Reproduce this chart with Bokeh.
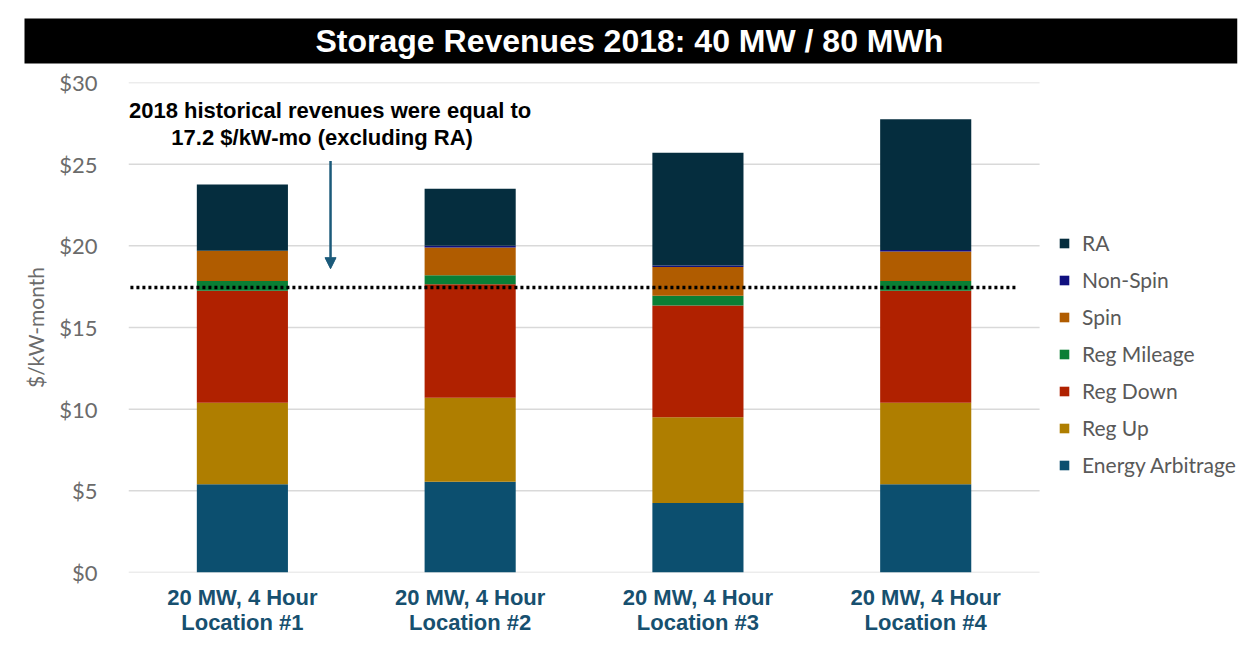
from bokeh.plotting import figure
from bokeh.models import (Range1d, FixedTicker, Legend, LegendItem, ColumnDataSource,
                          Label, Arrow, NormalHead, Title)
from bokeh.embed import file_html
from bokeh.resources import INLINE

title_text = "Storage Revenues 2018: 40 MW / 80 MWh"
categories = ["20 MW, 4 Hour\nLocation #1", "20 MW, 4 Hour\nLocation #2",
              "20 MW, 4 Hour\nLocation #3", "20 MW, 4 Hour\nLocation #4"]
series = ["Energy Arbitrage", "Reg Up", "Reg Down", "Reg Mileage", "Spin", "Non-Spin", "RA"]
energy_arbitrage = [5.4, 5.55, 4.25, 5.4]
reg_up = [5.0, 5.15, 5.25, 5.0]
reg_down = [6.85, 6.95, 6.85, 6.85]
reg_mileage = [0.6, 0.55, 0.6, 0.6]
spin = [1.85, 1.7, 1.75, 1.8]
non_spin = [0.0, 0.1, 0.1, 0.1]
ra = [4.05, 3.5, 6.9, 8.0]
colors = ["#0C4F6F", "#AF7E00", "#B02100", "#0A7F35", "#B05C00", "#10107F", "#052D3E"]
y_ticks = [0, 5, 10, 15, 20, 25, 30]
y_tick_labels = ["$0", "$5", "$10", "$15", "$20", "$25", "$30"]
historical_line = 17.45
note_lines = ["2018 historical revenues were equal to", "17.2 $/kW-mo (excluding RA)"]

n = len(categories)
bar_x = [i + 0.5 for i in range(n)]
data = ColumnDataSource(dict(x=bar_x, **{
    "Energy Arbitrage": energy_arbitrage, "Reg Up": reg_up, "Reg Down": reg_down,
    "Reg Mileage": reg_mileage, "Spin": spin, "Non-Spin": non_spin, "RA": ra}))

p = figure(width=1245, height=645, x_range=Range1d(0, 4.904),
           y_range=Range1d(0, 30), output_backend="svg", toolbar_location=None,
           min_border_left=128, min_border_right=0, min_border_top=82,
           min_border_bottom=73, outline_line_color=None, title=None)

p.add_layout(Title(text=title_text, align="left", vertical_align="top", offset=-104,
                   standoff=34, text_color="white", text_font="Liberation Sans",
                   text_font_style="bold", text_font_size="32px",
                   background_fill_color="black",
                   padding=dict(left=291, right=294, top=4, bottom=5)), "above")

# gridlines at the tick values, spanning the category area only
p.segment(x0=0, x1=n, y0=y_ticks, y1=y_ticks, line_color="#d9d9d9", line_width=1.5)

rs = p.vbar_stack(series, x="x", width=0.4, color=colors, source=data, line_color=None)

p.xgrid.visible = False
p.ygrid.visible = False
p.yaxis.ticker = FixedTicker(ticks=y_ticks)
p.yaxis.major_label_overrides = {t: l for t, l in zip(y_ticks, y_tick_labels)}
p.yaxis.axis_line_color = None
p.yaxis.major_tick_line_color = None
p.yaxis.minor_tick_line_color = None
p.yaxis.major_tick_out = 0
p.yaxis.major_label_standoff = 31
p.yaxis.major_label_text_font = "Lato"
p.yaxis.major_label_text_font_size = "22px"
p.yaxis.major_label_text_color = "#6b6b6b"
p.yaxis.axis_label = "$/kW-month"
p.yaxis.axis_label_text_font = "Lato"
p.yaxis.axis_label_text_font_style = "normal"
p.yaxis.axis_label_text_font_size = "21px"
p.yaxis.axis_label_text_color = "#6b6b6b"
p.yaxis.axis_label_standoff = 8

p.xaxis.ticker = FixedTicker(ticks=bar_x)
p.xaxis.major_label_overrides = {xx: c for xx, c in zip(bar_x, categories)}
p.xaxis.axis_line_color = None
p.xaxis.major_tick_line_color = None
p.xaxis.minor_tick_line_color = None
p.xaxis.major_tick_out = 0
p.xaxis.major_label_standoff = 12
p.xaxis.major_label_text_font = "Liberation Sans"
p.xaxis.major_label_text_font_style = "bold"
p.xaxis.major_label_text_font_size = "22px"
p.xaxis.major_label_text_color = "#17506F"
p.xaxis.major_label_text_line_height = 1.0

legend = Legend(items=[LegendItem(label=s, renderers=[r]) for s, r in reversed(list(zip(series, rs)))],
                location=(930, 95), border_line_color=None, background_fill_alpha=0,
                glyph_width=12, glyph_height=12, label_height=20, spacing=12,
                label_standoff=12, label_text_font="Lato", label_text_font_size="21px",
                label_text_color="#595959", padding=10)
p.add_layout(legend)

# dotted historical line
p.add_layout(Arrow(x_start=-0.255, x_end=3.9, y_start=historical_line, y_end=historical_line,
                   start=None, end=None, line_color="black", line_width=3.5,
                   line_dash="3 3"))
# annotation arrow
p.add_layout(Arrow(x_start=0.887, x_end=0.887, y_start=25.2, y_end=18.6,
                   line_color="#1B5A7A", line_width=2.5,
                   end=NormalHead(size=11, fill_color="#1B5A7A", line_color="#1B5A7A")))
for txt, xx, yy in zip(note_lines, [0.885, 0.85], [28.29, 26.64]):
    p.add_layout(Label(x=xx, y=yy, text=txt, text_align="center", text_baseline="middle",
                       text_font="Liberation Sans", text_font_style="bold",
                       text_font_size="22px", text_color="black"))

open("out.html", "w").write(file_html(p, INLINE))
